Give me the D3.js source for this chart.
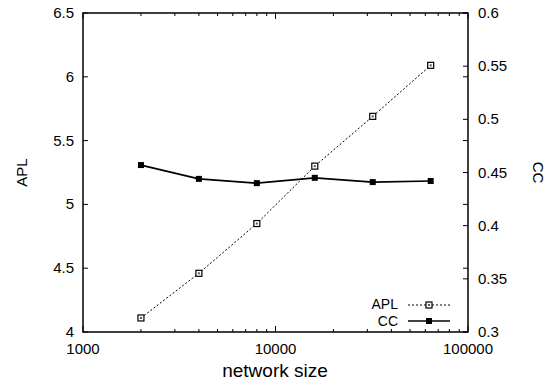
<!DOCTYPE html>
<html>
<head>
<meta charset="utf-8">
<script src="https://cdn.jsdelivr.net/npm/d3@7"></script>
<style>
  body { margin: 0; background: #fff; }
  text { font-family: "Liberation Sans", Arial, Helvetica, sans-serif; fill: #000; }
</style>
</head>
<body>
<div id="chart"></div>
<script>
// network sizes on the log x axis
const sizes = [2000, 4000, 8000, 16000, 32000, 64000];
// average path length (left axis)
const aplValues = [4.11, 4.46, 4.85, 5.30, 5.69, 6.09];
// clustering coefficient (right axis)
const ccValues = [0.457, 0.444, 0.440, 0.445, 0.441, 0.442];

const xTicks = [1000, 10000, 100000];
const yTicks = [4, 4.5, 5, 5.5, 6, 6.5];
const y2Ticks = [0.3, 0.35, 0.4, 0.45, 0.5, 0.55, 0.6];

const W = 547, H = 385;
const plotL = 83, plotR = 468, plotT = 13, plotB = 332;

const svg = d3.select("#chart").append("svg").attr("width", W).attr("height", H);

const x = d3.scaleLog().domain([1000, 100000]).range([plotL, plotR]);
const y = d3.scaleLinear().domain([4, 6.5]).range([plotB, plotT]);
const y2 = d3.scaleLinear().domain([0.3, 0.6]).range([plotB, plotT]);

// minor ticks for the log axis
const minorX = [];
[1000, 10000].forEach((d) => {
  for (let k = 2; k <= 9; k++) minorX.push(d * k);
});

const tickG = svg.append("g").attr("stroke", "#000").attr("stroke-width", 1);

// bottom and top (mirrored) x ticks, pointing inward
xTicks.forEach((t) => {
  tickG.append("line").attr("x1", x(t)).attr("x2", x(t)).attr("y1", plotB).attr("y2", plotB - 6);
  tickG.append("line").attr("x1", x(t)).attr("x2", x(t)).attr("y1", plotT).attr("y2", plotT + 6);
});
minorX.forEach((t) => {
  tickG.append("line").attr("x1", x(t)).attr("x2", x(t)).attr("y1", plotB).attr("y2", plotB - 3);
  tickG.append("line").attr("x1", x(t)).attr("x2", x(t)).attr("y1", plotT).attr("y2", plotT + 3);
});

// left ticks, mirrored on the right side too
yTicks.forEach((t) => {
  tickG.append("line").attr("x1", plotL).attr("x2", plotL + 5).attr("y1", y(t)).attr("y2", y(t));
  tickG.append("line").attr("x1", plotR).attr("x2", plotR - 5).attr("y1", y(t)).attr("y2", y(t));
});
// right axis ticks
y2Ticks.forEach((t) => {
  tickG.append("line").attr("x1", plotR).attr("x2", plotR - 5).attr("y1", y2(t)).attr("y2", y2(t));
});

// frame
svg.append("rect")
  .attr("x", plotL).attr("y", plotT)
  .attr("width", plotR - plotL).attr("height", plotB - plotT)
  .attr("fill", "none").attr("stroke", "#000").attr("stroke-width", 1.5);

// tick labels
svg.selectAll(".xl").data(xTicks).enter().append("text")
  .attr("x", (d) => x(d)).attr("y", plotB + 22)
  .attr("text-anchor", "middle").attr("font-size", 15)
  .text((d) => d);

svg.selectAll(".yl").data(yTicks).enter().append("text")
  .attr("x", plotL - 9).attr("y", (d) => y(d) + 5)
  .attr("text-anchor", "end").attr("font-size", 15)
  .text((d) => d);

svg.selectAll(".y2l").data(y2Ticks).enter().append("text")
  .attr("x", plotR + 10).attr("y", (d) => y2(d) + 5)
  .attr("text-anchor", "start").attr("font-size", 15)
  .text((d) => d);

// axis titles
svg.append("text")
  .attr("x", 275).attr("y", 377)
  .attr("text-anchor", "middle").attr("font-size", 19)
  .text("network size");

svg.append("text")
  .attr("transform", `translate(27,${(plotT + plotB) / 2}) rotate(-90)`)
  .attr("text-anchor", "middle").attr("font-size", 15)
  .text("APL");

svg.append("text")
  .attr("transform", `translate(533,${(plotT + plotB) / 2}) rotate(90)`)
  .attr("text-anchor", "middle").attr("font-size", 15)
  .text("CC");

// APL series: dashed line with open square markers
const aplData = sizes.map((s, i) => ({ s: s, v: aplValues[i] }));
const ccData = sizes.map((s, i) => ({ s: s, v: ccValues[i] }));

svg.append("path")
  .datum(aplData)
  .attr("fill", "none").attr("stroke", "#000").attr("stroke-width", 1)
  .attr("stroke-dasharray", "2,2")
  .attr("d", d3.line().x((d) => x(d.s)).y((d) => y(d.v)));

svg.append("path")
  .datum(ccData)
  .attr("fill", "none").attr("stroke", "#000").attr("stroke-width", 1.7)
  .attr("d", d3.line().x((d) => x(d.s)).y((d) => y2(d.v)));

function openBox(g, cx, cy) {
  g.append("rect").attr("x", cx - 3).attr("y", cy - 3).attr("width", 6).attr("height", 6)
    .attr("fill", "#fff").attr("stroke", "#000").attr("stroke-width", 1.2);
  g.append("rect").attr("x", cx - 1).attr("y", cy - 1).attr("width", 2).attr("height", 2)
    .attr("fill", "#555");
}
function filledBox(g, cx, cy) {
  g.append("rect").attr("x", cx - 3).attr("y", cy - 3).attr("width", 6).attr("height", 6)
    .attr("fill", "#000");
}

const markG = svg.append("g");
aplData.forEach((d) => openBox(markG, x(d.s), y(d.v)));
ccData.forEach((d) => filledBox(markG, x(d.s), y2(d.v)));

// legend
const legG = svg.append("g");
legG.append("text").attr("x", 398).attr("y", 309).attr("text-anchor", "end")
  .attr("font-size", 14).text("APL");
legG.append("line").attr("x1", 408).attr("x2", 450).attr("y1", 305).attr("y2", 305)
  .attr("stroke", "#000").attr("stroke-width", 1).attr("stroke-dasharray", "2,2");
openBox(legG, 429, 305);

legG.append("text").attr("x", 398).attr("y", 325.5).attr("text-anchor", "end")
  .attr("font-size", 14).text("CC");
legG.append("line").attr("x1", 408).attr("x2", 450).attr("y1", 321).attr("y2", 321)
  .attr("stroke", "#000").attr("stroke-width", 1.7);
filledBox(legG, 429, 321);
</script>
</body>
</html>
